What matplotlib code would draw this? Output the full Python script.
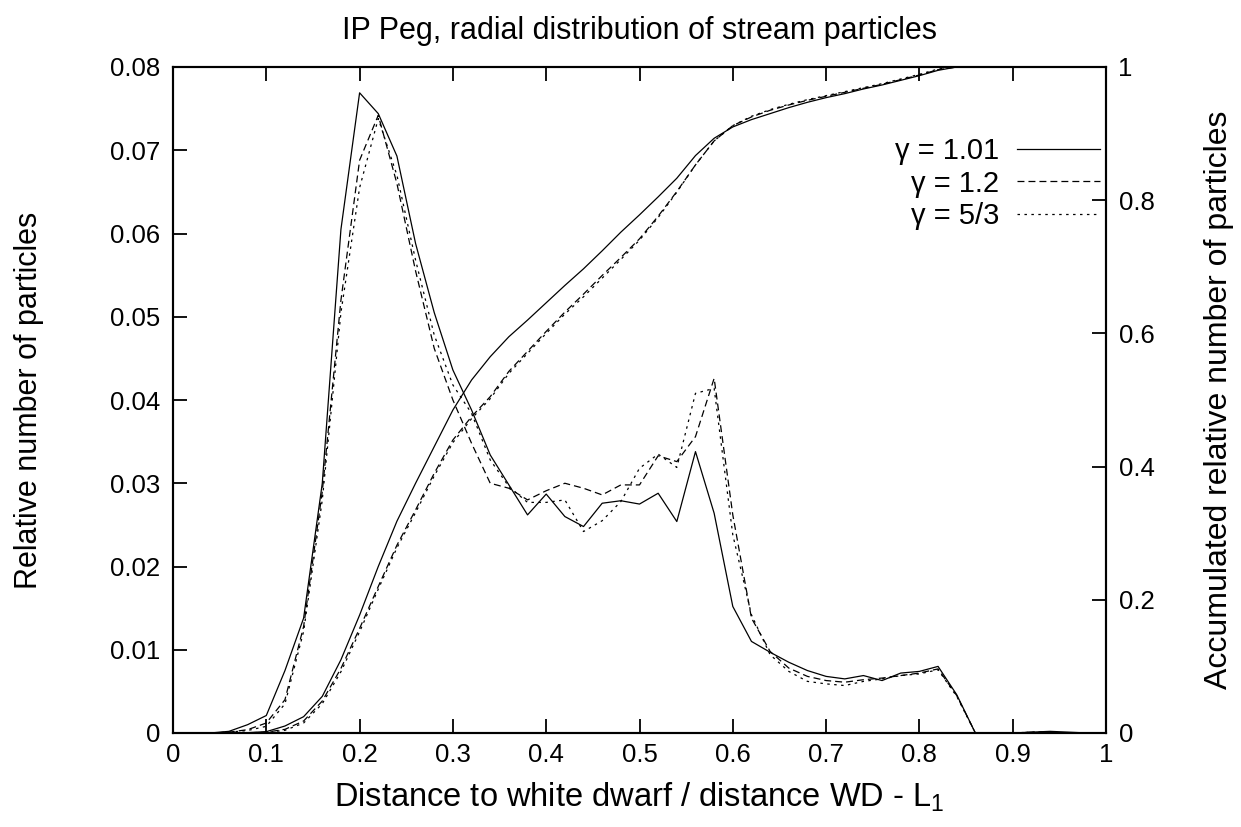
import numpy as np
import matplotlib
matplotlib.use("Agg")
import matplotlib.pyplot as plt

plt.rcParams['font.family'] = ['Liberation Sans', 'DejaVu Sans']
plt.rcParams['mathtext.default'] = 'regular'
plt.rcParams['lines.scale_dashes'] = False

# bin centres (distance to WD / distance WD - L1)
x = np.linspace(0, 1, 51)

# relative number of particles per bin (left axis)
dens_101 = [0, 0, 0, 0.0002, 0.001, 0.0021, 0.0075, 0.0138, 0.030, 0.0605,
            0.0769, 0.0744, 0.0693, 0.0588, 0.0505, 0.0436, 0.0388, 0.0334, 0.0298, 0.0262,
            0.0287, 0.0260, 0.0248, 0.0276, 0.0279, 0.0275, 0.0288, 0.0254, 0.0338, 0.0264,
            0.0152, 0.0110, 0.0097, 0.0085, 0.0075, 0.0068, 0.0065, 0.0069, 0.0063, 0.0072,
            0.0074, 0.0080, 0.0046, 0, 0, 0, 0.0001, 0.0002, 0.0001, 0, 0]
dens_12 = [0, 0, 0, 0.0001, 0.0004, 0.0012, 0.0040, 0.0128, 0.029, 0.052,
           0.0688, 0.0742, 0.0660, 0.0555, 0.0462, 0.0400, 0.0348, 0.0300, 0.0294, 0.0280,
           0.0291, 0.0300, 0.0294, 0.0286, 0.0298, 0.0298, 0.0333, 0.0326, 0.0356, 0.0426,
           0.0262, 0.0138, 0.0098, 0.0078, 0.0068, 0.0063, 0.0061, 0.0064, 0.0066, 0.0069,
           0.0072, 0.0077, 0.0045, 0, 0, 0, 0.0001, 0.0001, 0, 0, 0]
dens_53 = [0, 0, 0, 0.0001, 0.0003, 0.0008, 0.0035, 0.0122, 0.028, 0.0505,
           0.0655, 0.0738, 0.0670, 0.0568, 0.0478, 0.0418, 0.0384, 0.0328, 0.0296, 0.0277,
           0.0277, 0.0280, 0.0242, 0.0255, 0.0278, 0.0318, 0.0335, 0.0319, 0.0408, 0.0414,
           0.0238, 0.0142, 0.0094, 0.0074, 0.0062, 0.0059, 0.0057, 0.0062, 0.0065, 0.0069,
           0.0071, 0.0076, 0.0044, 0, 0, 0, 0.0001, 0.0001, 0, 0, 0]

# accumulated relative number of particles (right axis)
cum_101 = [0, 0, 0, 0, 0.0005, 0.002, 0.0105, 0.0245, 0.055, 0.110,
           0.177, 0.250, 0.318, 0.375, 0.430, 0.485, 0.530, 0.565, 0.595, 0.620,
           0.646, 0.672, 0.697, 0.724, 0.752, 0.778, 0.805, 0.833, 0.867, 0.893,
           0.910, 0.921, 0.930, 0.939, 0.947, 0.954, 0.960, 0.967, 0.973, 0.980,
           0.987, 0.995, 1.0, 1.0, 1.0, 1.0, 1.0, 1.0, 1.0, 1.0, 1.0]
cum_12 = [0, 0, 0, 0, 0.0003, 0.0012, 0.0055, 0.018, 0.048, 0.097,
          0.157, 0.220, 0.282, 0.335, 0.390, 0.440, 0.475, 0.505, 0.543, 0.573,
          0.603, 0.632, 0.659, 0.687, 0.714, 0.742, 0.776, 0.813, 0.853, 0.889,
          0.912, 0.925, 0.935, 0.943, 0.950, 0.956, 0.962, 0.968, 0.974, 0.981,
          0.988, 0.996, 1.0, 1.0, 1.0, 1.0, 1.0, 1.0, 1.0, 1.0, 1.0]
cum_53 = [0, 0, 0, 0, 0.0002, 0.0008, 0.004, 0.015, 0.044, 0.092,
          0.152, 0.216, 0.278, 0.331, 0.386, 0.436, 0.472, 0.502, 0.540, 0.570,
          0.600, 0.629, 0.655, 0.683, 0.711, 0.740, 0.774, 0.812, 0.853, 0.889,
          0.912, 0.926, 0.936, 0.944, 0.951, 0.957, 0.963, 0.969, 0.975, 0.982,
          0.989, 0.997, 1.0, 1.0, 1.0, 1.0, 1.0, 1.0, 1.0, 1.0, 1.0]

labels = ['γ = 1.01', 'γ = 1.2', 'γ = 5/3']
styles = ['-', (0, (5.0, 2.9)), (0, (1.8, 3.2))]

fig = plt.figure(figsize=(12.41, 8.27), dpi=100)
ax = fig.add_axes([173 / 1241, 94 / 827, (1106 - 173) / 1241, (733 - 67) / 827])
ax2 = ax.twinx()

handles = []
for d, ls, lab in zip([dens_101, dens_12, dens_53], styles, labels):
    h, = ax.plot(x, d, color='black', lw=0.9, linestyle=ls, label=lab)
    handles.append(h)
for c, ls in zip([cum_101, cum_12, cum_53], styles):
    ax2.plot(x, c, color='black', lw=0.9, linestyle=ls)

ax.set_xlim(0, 1)
ax.set_ylim(0, 0.08)
ax2.set_ylim(0, 1)
ax.set_xticks(np.arange(0, 1.01, 0.1))
ax.set_xticklabels(['0', '0.1', '0.2', '0.3', '0.4', '0.5', '0.6', '0.7', '0.8', '0.9', '1'])
ax.set_yticks(np.arange(0, 0.081, 0.01))
ax.set_yticklabels(['0', '0.01', '0.02', '0.03', '0.04', '0.05', '0.06', '0.07', '0.08'])
ax2.set_yticks(np.arange(0, 1.01, 0.2))
ax2.set_yticklabels(['0', '0.2', '0.4', '0.6', '0.8', '1'])

fs = 18.5
ax.tick_params(axis='x', direction='in', length=10, width=1.3, top=True, labelsize=fs, pad=7)
ax.tick_params(axis='y', direction='in', length=10, width=1.3, right=False, labelsize=fs, pad=9)
ax2.tick_params(axis='y', direction='in', length=10, width=1.3, labelsize=fs, pad=9)
for a in (ax, ax2):
    for s in a.spines.values():
        s.set_linewidth(1.5)

ax.set_title('IP Peg, radial distribution of stream particles', fontsize=22, pad=20)
ax.set_xlabel('Distance to white dwarf / distance WD - L$_1$', fontsize=23.5, labelpad=10)
ax.set_ylabel('Relative number of particles', fontsize=22, labelpad=48)
ax2.set_ylabel('Accumulated relative number of particles', fontsize=23, labelpad=36)

ax2.legend(handles=handles, loc='upper right', bbox_to_anchor=(0.9936, 0.895),
           frameon=False, markerfirst=False, fontsize=21, handlelength=2.86,
           handletextpad=0.6, labelspacing=0.16, borderaxespad=0, borderpad=0)

fig.savefig('out.png', dpi=100)
